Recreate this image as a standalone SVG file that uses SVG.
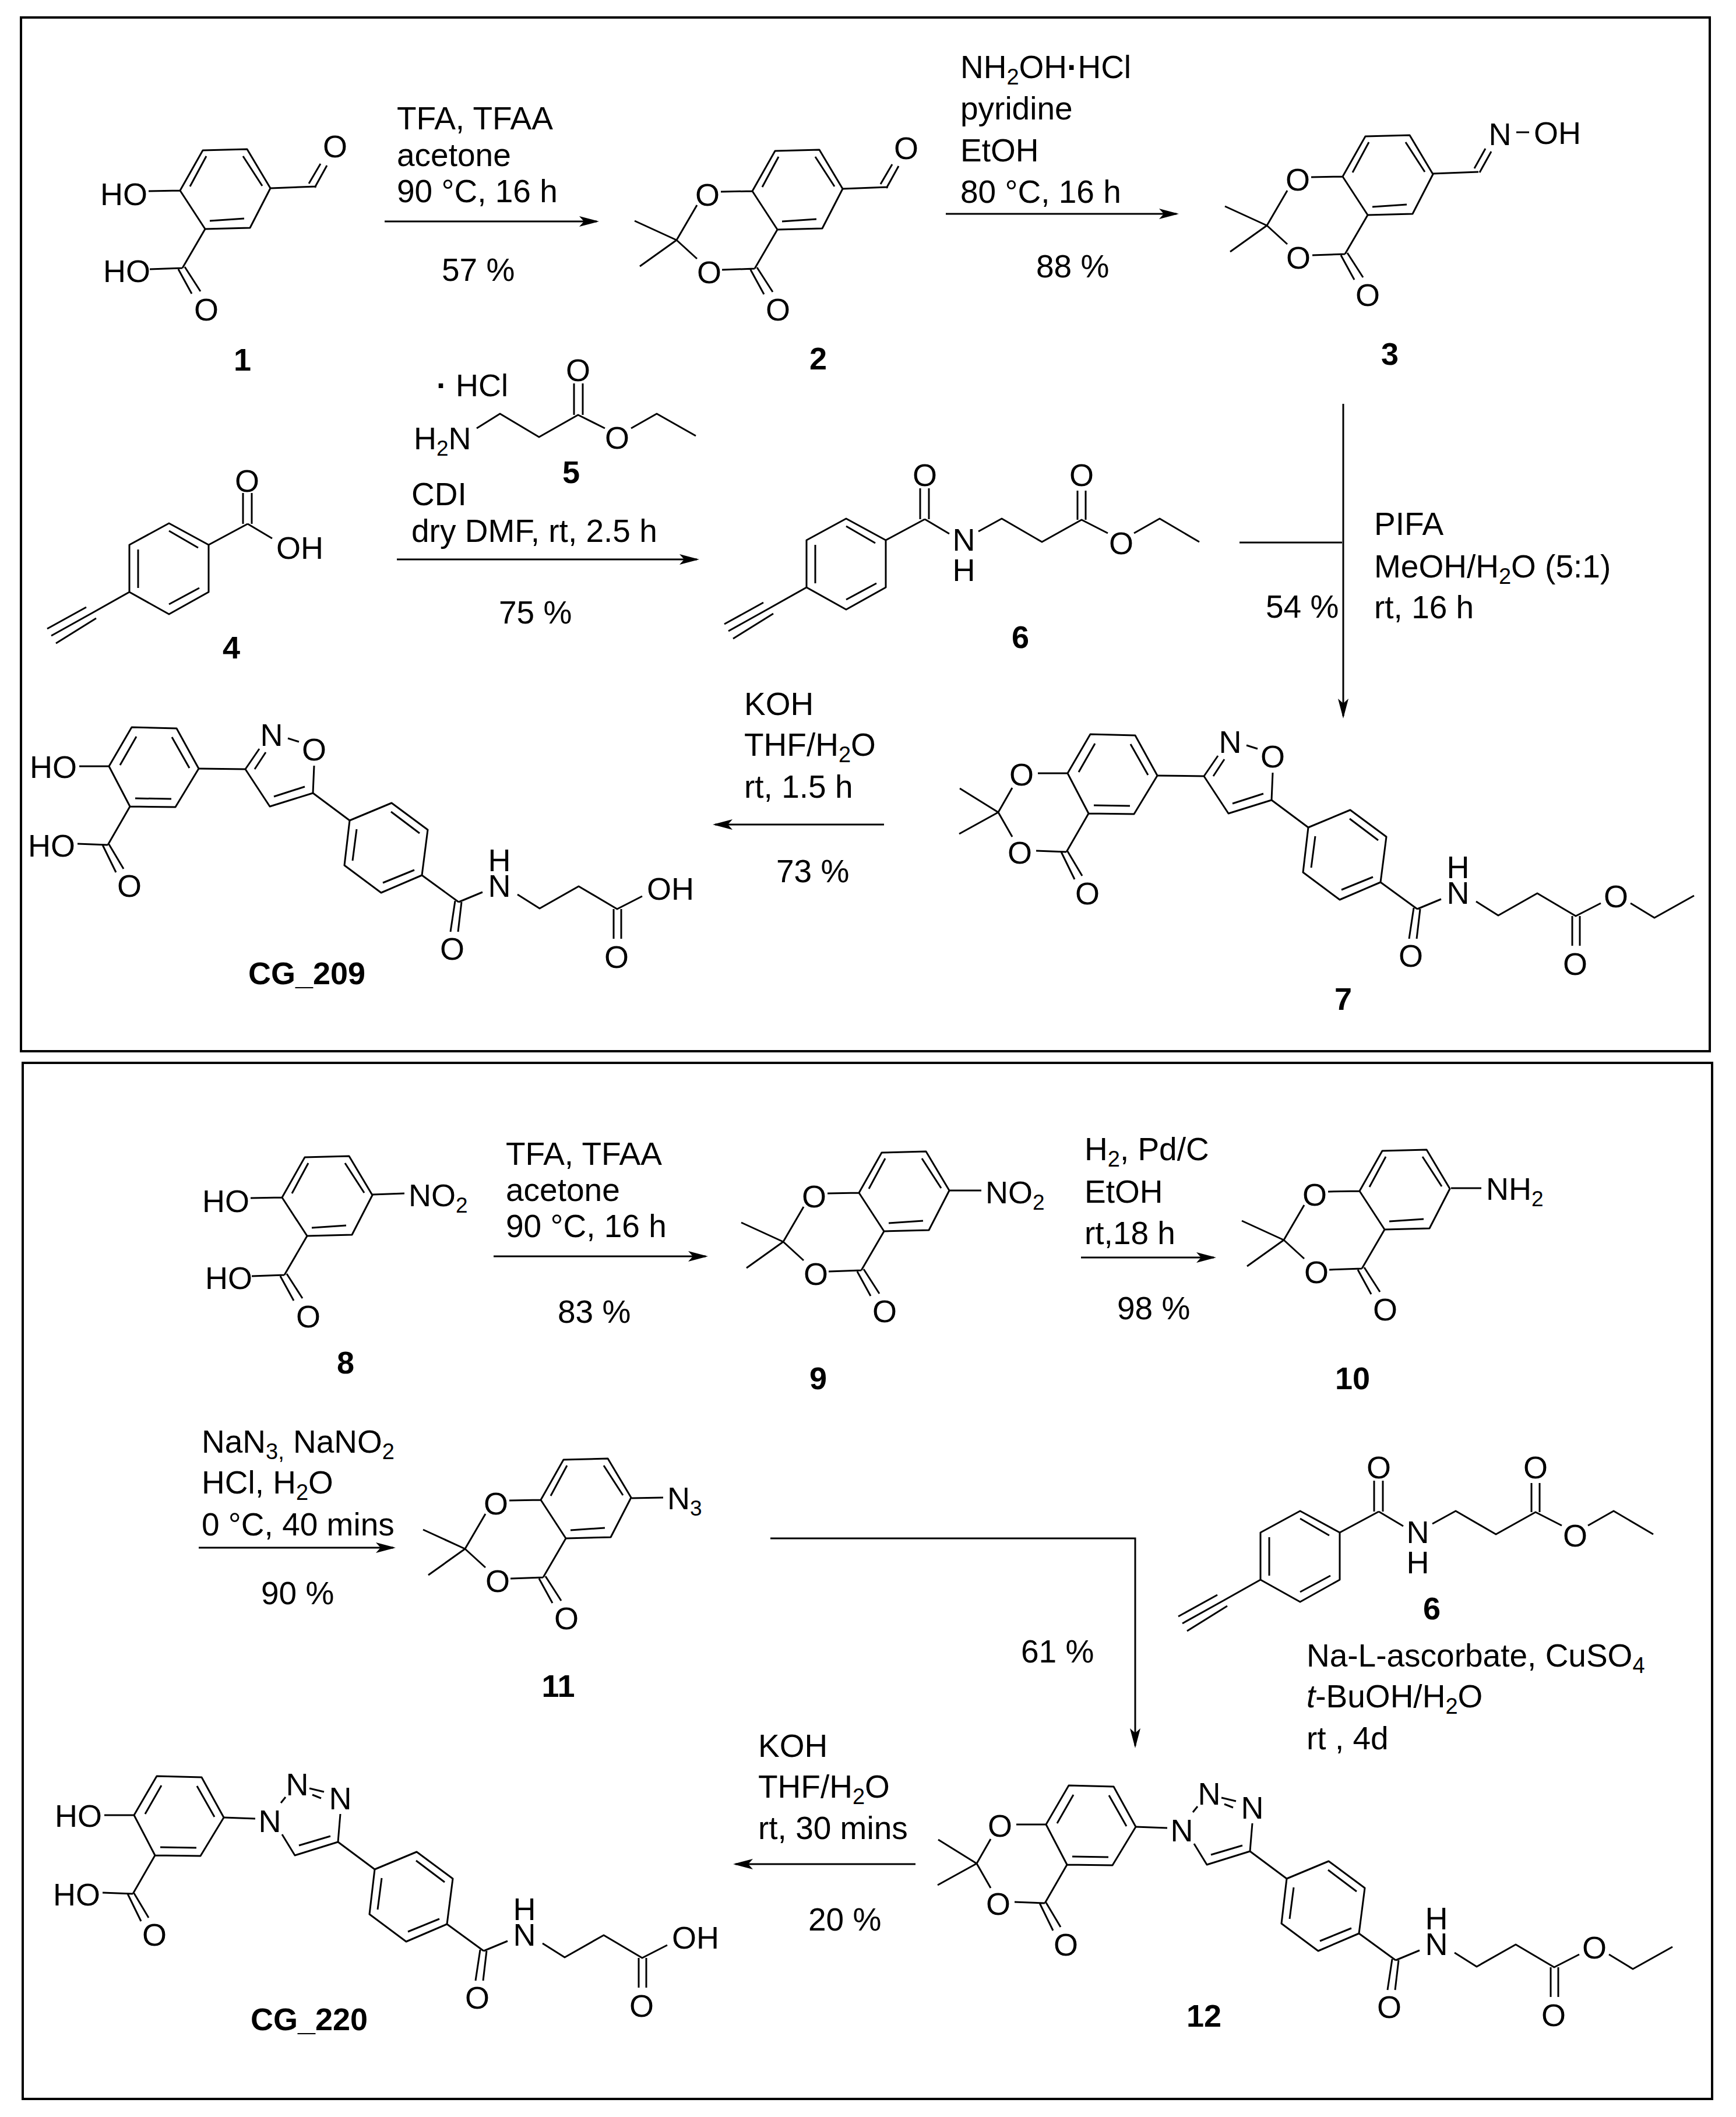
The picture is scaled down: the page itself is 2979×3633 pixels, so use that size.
<svg xmlns="http://www.w3.org/2000/svg" width="2979" height="3633" viewBox="0 0 2979 3633">
<style>
text{font-family:"Liberation Sans",Arial,sans-serif;font-size:54px;fill:#000}
#conditions text{font-size:55px}
#conditions .s{font-size:38px}
.a{text-anchor:middle}
.l{text-anchor:middle;font-weight:bold}
.lb{font-weight:bold}
.d{font-weight:bold}
.s{font-size:37px}
.b{fill:none;stroke:#000;stroke-width:3;stroke-linejoin:round}
.f{fill:none;stroke:#000;stroke-width:4}
.c{fill:none;stroke:#000;stroke-width:3}
.r{fill:none;stroke:#000;stroke-width:3;marker-end:url(#arr)}
</style>
<defs>
<marker id="arr" markerUnits="userSpaceOnUse" markerWidth="40" markerHeight="24" refX="30" refY="12" orient="auto"><path d="M0 3L34 12L0 21L8 12Z" fill="#000"/></marker>
<path id="ringA" class="b" d="M1291 328L1330 259L1406 257L1446 324L1411 392L1334 394ZM1336 269L1308 321M1399 269L1432 320M1401 376L1342 380M1334 394L1295 461M1288 463L1311 505M1299 459L1326 501M1239 463L1295 461M1237 329L1291 328"/>
<path id="dioxA" class="b" d="M1196 352L1161 412L1196 444M1089 379L1161 412L1098 457"/>
<path id="cho" class="b" d="M1446 324L1524 321M1511 316L1531 282M1521 323L1542 285"/>
<path id="ringB" class="b" d="M1832 1327L1871 1260L1948 1262L1986 1331L1946 1397L1868 1396ZM1879 1276L1851 1325M1940 1277L1970 1330M1939 1383L1877 1382M1868 1396L1830 1462M1821 1462L1844 1509M1832 1461L1857 1503M1781 1327L1832 1327M1778 1460L1830 1462"/>
<path id="dioxB" class="b" d="M1737 1352L1713 1394L1737 1436M1647 1353L1713 1394L1646 1431"/>
<path id="tail" class="b" d="M2182 1373L2245 1420M2245 1420L2317 1390L2379 1436L2369 1514L2299 1544L2236 1497ZM2316 1405L2365 1442M2302 1527L2356 1505M2257 1435L2250 1489M2369 1514L2432 1560M2426 1558L2418 1611M2437 1560L2431 1611M2432 1560L2473 1543M2533 1547L2571 1571L2638 1533L2704 1572L2747 1550M2698 1572L2698 1623M2711 1572L2711 1623"/>
<path id="ethyl" class="b" d="M2798 1550L2839 1575L2907 1537"/>
<path id="isox" class="b" d="M1986 1331L2066 1332L2090 1297M2082 1332L2101 1303M2139 1279L2158 1285M2184 1326L2182 1373L2108 1396L2066 1332M2168 1362L2115 1379"/>
<path id="triaz" class="b" d="M1986 1331L2040 1333M2084 1306L2092 1296M2133 1281L2158 1287M2138 1292L2153 1298M2186 1325L2182 1373L2108 1396L2086 1360M2169 1363L2115 1379"/>
<path id="acyl" class="b" d="M290 898L358 935L358 1016L290 1054L222 1016L222 935ZM290 911L340 940M237 943L237 1009M290 1037L342 1009M222 1016L158 1052M148 1042L81 1079M158 1052L88 1091M165 1061L96 1104M358 935L425 899M417 899L417 846M432 899L432 846M425 899L467 924"/>
<path id="chain6" class="b" d="M1679 912L1719 890L1788 930L1856 892L1901 915M1849 892L1849 842M1863 892L1863 842M1946 915L1990 890L2058 930"/>
</defs>
<rect width="2979" height="3633" fill="#fff"/>
<g id="frames">
<rect class="f" x="36" y="30" width="2898" height="1774"/>
<rect class="f" x="39" y="1824" width="2899" height="1778"/>
</g>
<g id="connectors">
<path class="r" d="M660 380H1024"/>
<path class="r" d="M1623 367H2019"/>
<path class="r" d="M681 960H1196"/>
<path class="r" d="M2305 693V1229"/>
<path class="c" d="M2127 931H2303"/>
<path class="r" d="M1517 1415H1227"/>
<path class="r" d="M847 2156H1211"/>
<path class="r" d="M1855 2158H2083"/>
<path class="r" d="M341 2656H675"/>
<path class="r" d="M1322 2640H1948V2996"/>
<path class="r" d="M1571 3199H1262"/>
</g>
<g id="mol-1">
<use href="#ringA" transform="translate(-982,-1)"/><use href="#cho" transform="translate(-981,-1)"/>
<text x="172" y="352">HO</text><text x="177" y="484">HO</text><text class="a" x="575" y="270">O</text><text class="a" x="354" y="550">O</text><text class="l" x="416" y="636">1</text>
</g>
<g id="mol-2">
<use href="#ringA"/><use href="#dioxA"/><use href="#cho"/>
<text class="a" x="1214" y="353">O</text><text class="a" x="1217" y="486">O</text><text class="a" x="1335" y="550">O</text><text class="a" x="1555" y="273">O</text><text class="l" x="1404" y="634">2</text>
</g>
<g id="mol-3">
<use href="#ringA" transform="translate(1013,-25)"/><use href="#dioxA" transform="translate(1013,-25)"/>
<path class="b" d="M2458 298L2537 295M2530 289L2549 255M2539 296L2559 260M2602 227H2624"/>
<text class="a" x="2574" y="249">N</text><text x="2632" y="247">OH</text>
<text class="a" x="2227" y="327">O</text><text class="a" x="2228" y="461">O</text><text class="a" x="2347" y="525">O</text><text class="l" x="2385" y="626">3</text>
</g>
<g id="mol-4">
<use href="#acyl"/>
<text class="a" x="424" y="844">O</text><text x="474" y="959">OH</text><text class="l" x="397" y="1130">4</text>
</g>
<g id="mol-5">
<path class="b" d="M818 735L858 710L925 750L992 712L1038 735M985 712V658M1000 712V658M1083 735L1127 710L1194 748"/>
<text x="749" y="680"><tspan class="d">·</tspan> HCl</text>
<text x="710" y="771">H<tspan class="s" dy="11">2</tspan><tspan dy="-11">N</tspan></text>
<text class="a" x="992" y="654">O</text><text class="a" x="1059" y="770">O</text><text class="l" x="980" y="829">5</text>
</g>
<g id="mol-6">
<use href="#acyl" transform="translate(1162,-8)"/><use href="#chain6"/>
<text class="a" x="1587" y="834">O</text><text class="a"><tspan x="1654" y="945">N</tspan><tspan x="1654" y="997">H</tspan></text><text class="a" x="1856" y="834">O</text><text class="a" x="1924" y="951">O</text><text class="l" x="1751" y="1112">6</text>
</g>
<g id="mol-7">
<use href="#ringB"/><use href="#dioxB"/><use href="#isox"/><use href="#tail"/><use href="#ethyl"/>
<text class="a" x="1753" y="1348">O</text><text class="a" x="1750" y="1482">O</text><text class="a" x="1866" y="1552">O</text><text class="a" x="2111" y="1292">N</text><text class="a" x="2184" y="1317">O</text><text class="a" x="2421" y="1659">O</text><text class="a"><tspan x="2502" y="1507">H</tspan><tspan x="2502" y="1551">N</tspan></text><text class="a" x="2703" y="1673">O</text><text class="a" x="2773" y="1557">O</text><text class="l" x="2305" y="1733">7</text>
</g>
<g id="mol-CG209">
<g transform="translate(-1645,-12)"><use href="#ringB"/><use href="#isox"/><use href="#tail"/></g>
<text x="51" y="1335">HO</text><text x="48" y="1470">HO</text><text class="a" x="222" y="1539">O</text><text class="a" x="466" y="1280">N</text><text class="a" x="539" y="1305">O</text><text class="a" x="776" y="1647">O</text><text class="a"><tspan x="857" y="1495">H</tspan><tspan x="857" y="1539">N</tspan></text><text x="1110" y="1544">OH</text><text class="a" x="1058" y="1661">O</text><text class="lb" x="426" y="1689">CG_209</text>
</g>
<g id="mol-8">
<use href="#ringA" transform="translate(-807,1727)"/>
<path class="b" d="M639 2050L694 2048"/>
<text x="701" y="2070">NO<tspan class="s" dy="11">2</tspan></text>
<text x="347" y="2080">HO</text><text x="352" y="2212">HO</text><text class="a" x="529" y="2278">O</text><text class="l" x="593" y="2357">8</text>
</g>
<g id="mol-9">
<use href="#ringA" transform="translate(183,1719)"/><use href="#dioxA" transform="translate(183,1719)"/>
<path class="b" d="M1629 2043H1684"/>
<text x="1691" y="2065">NO<tspan class="s" dy="11">2</tspan></text>
<text class="a" x="1397" y="2072">O</text><text class="a" x="1400" y="2205">O</text><text class="a" x="1518" y="2269">O</text><text class="l" x="1404" y="2384">9</text>
</g>
<g id="mol-10">
<use href="#ringA" transform="translate(1042,1716)"/><use href="#dioxA" transform="translate(1042,1716)"/>
<path class="b" d="M2490 2039H2542"/>
<text x="2550" y="2059">NH<tspan class="s" dy="11">2</tspan></text>
<text class="a" x="2256" y="2069">O</text><text class="a" x="2259" y="2202">O</text><text class="a" x="2377" y="2266">O</text><text class="l" x="2321" y="2384">10</text>
</g>
<g id="mol-11">
<use href="#ringA" transform="translate(-363,2246)"/><use href="#dioxA" transform="translate(-363,2246)"/>
<path class="b" d="M1084 2571L1138 2570"/>
<text x="1145" y="2590">N<tspan class="s" dy="11">3</tspan></text>
<text class="a" x="851" y="2599">O</text><text class="a" x="854" y="2732">O</text><text class="a" x="972" y="2796">O</text><text class="l" x="958" y="2912">11</text>
</g>
<g id="mol-6b">
<use href="#acyl" transform="translate(1941,1695)"/><use href="#chain6" transform="translate(779,1703)"/>
<text class="a" x="2366" y="2537">O</text><text class="a"><tspan x="2433" y="2648">N</tspan><tspan x="2433" y="2700">H</tspan></text><text class="a" x="2635" y="2537">O</text><text class="a" x="2703" y="2654">O</text><text class="l" x="2457" y="2779">6</text>
</g>
<g id="mol-12">
<g transform="translate(-37,1804)"><use href="#ringB"/><use href="#dioxB"/><use href="#triaz"/><use href="#tail"/><use href="#ethyl"/></g>
<text class="a" x="1716" y="3152">O</text><text class="a" x="1713" y="3286">O</text><text class="a" x="1829" y="3356">O</text><text class="a" x="2028" y="3160">N</text><text class="a" x="2075" y="3097">N</text><text class="a" x="2149" y="3121">N</text><text class="a" x="2384" y="3463">O</text><text class="a"><tspan x="2465" y="3311">H</tspan><tspan x="2465" y="3355">N</tspan></text><text class="a" x="2666" y="3477">O</text><text class="a" x="2736" y="3361">O</text><text class="l" x="2066" y="3478">12</text>
</g>
<g id="mol-CG220">
<g transform="translate(-1602,1788)"><use href="#ringB"/><use href="#triaz"/><use href="#tail"/></g>
<text x="94" y="3135">HO</text><text x="91" y="3270">HO</text><text class="a" x="265" y="3339">O</text><text class="a" x="463" y="3144">N</text><text class="a" x="510" y="3081">N</text><text class="a" x="584" y="3105">N</text><text class="a" x="819" y="3447">O</text><text class="a"><tspan x="900" y="3295">H</tspan><tspan x="900" y="3339">N</tspan></text><text x="1153" y="3344">OH</text><text class="a" x="1101" y="3461">O</text><text class="lb" x="430" y="3484">CG_220</text>
</g>
<g id="conditions">
<text x="681" y="222">TFA, TFAA</text><text x="681" y="285">acetone</text><text x="681" y="347">90 °C, 16 h</text><text x="758" y="482">57 %</text>
<text x="1648" y="134">NH<tspan class="s" dy="11">2</tspan><tspan dy="-11">OH<tspan class="d">·</tspan>HCl</tspan></text><text x="1648" y="205">pyridine</text><text x="1648" y="277">EtOH</text><text x="1648" y="348">80 °C, 16 h</text><text x="1778" y="476">88 %</text>
<text x="706" y="867">CDI</text><text x="706" y="930">dry DMF, rt, 2.5 h</text><text x="856" y="1070">75 %</text>
<text x="2358" y="918">PIFA</text><text x="2358" y="991">MeOH/H<tspan class="s" dy="11">2</tspan><tspan dy="-11">O (5:1)</tspan></text><text x="2358" y="1061">rt, 16 h</text><text x="2172" y="1060">54 %</text>
<text x="1277" y="1227">KOH</text><text x="1277" y="1297">THF/H<tspan class="s" dy="11">2</tspan><tspan dy="-11">O</tspan></text><text x="1277" y="1369">rt, 1.5 h</text><text x="1332" y="1514">73 %</text>
<text x="868" y="1999">TFA, TFAA</text><text x="868" y="2061">acetone</text><text x="868" y="2123">90 °C, 16 h</text><text x="957" y="2270">83 %</text>
<text x="1861" y="1991">H<tspan class="s" dy="11">2</tspan><tspan dy="-11">, Pd/C</tspan></text><text x="1861" y="2064">EtOH</text><text x="1861" y="2135">rt,18 h</text><text x="1917" y="2264">98 %</text>
<text x="346" y="2493">NaN<tspan class="s" dy="11">3,</tspan><tspan dy="-11"> NaNO</tspan><tspan class="s" dy="11">2</tspan></text><text x="346" y="2563">HCl, H<tspan class="s" dy="11">2</tspan><tspan dy="-11">O</tspan></text><text x="346" y="2635">0 °C, 40 mins</text><text x="448" y="2753">90 %</text>
<text x="1752" y="2853">61 %</text>
<text x="2242" y="2860">Na-L-ascorbate, CuSO<tspan class="s" dy="11">4</tspan></text><text x="2242" y="2930"><tspan font-style="italic">t</tspan>-BuOH/H<tspan class="s" dy="11">2</tspan><tspan dy="-11">O</tspan></text><text x="2242" y="3002">rt , 4d</text>
<text x="1301" y="3015">KOH</text><text x="1301" y="3085">THF/H<tspan class="s" dy="11">2</tspan><tspan dy="-11">O</tspan></text><text x="1301" y="3156">rt, 30 mins</text><text x="1387" y="3313">20 %</text>
</g>
</svg>
